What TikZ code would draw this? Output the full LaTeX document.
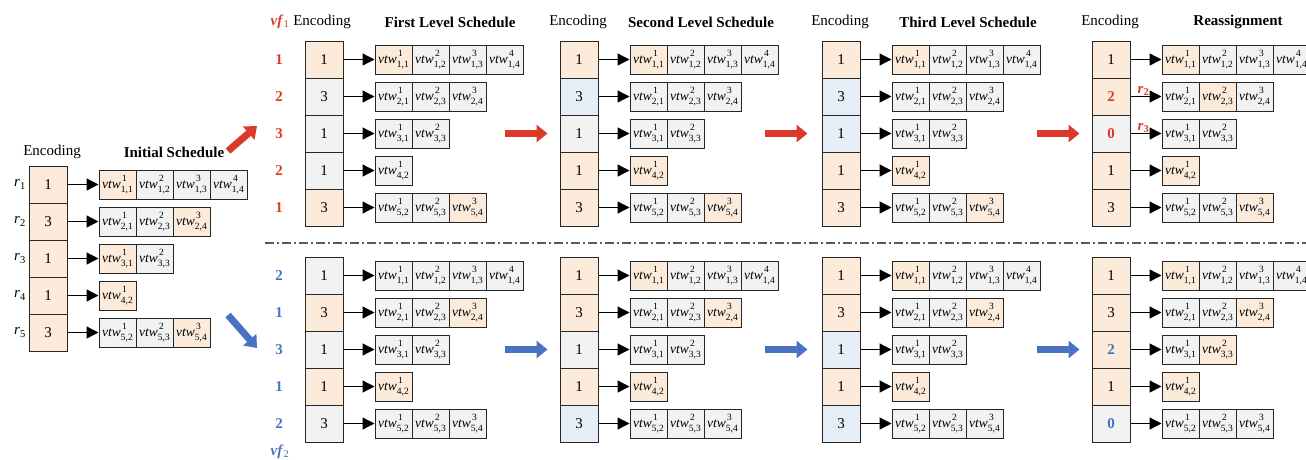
\documentclass[tikz,border=0pt]{standalone}
\usepackage{fontspec}
\setmainfont{Liberation Serif}
\usepackage{xcolor}
\usetikzlibrary{arrows.meta}

\definecolor{ora}{HTML}{FCEADB}
\definecolor{gry}{HTML}{F2F2F2}
\definecolor{blu}{HTML}{E6EEF8}
\definecolor{vfred}{HTML}{DC3A28}
\definecolor{vfblue}{HTML}{4A72C2}

% task label with stacked super- and subscript
\newcommand{\vtw}[2]{\textit{vtw}{\fontsize{9.5}{10}\selectfont
  \rlap{\kern1.2pt\raisebox{6.8pt}{#1}}\raisebox{-3.6pt}{#2}}}
\newcommand{\redval}[1]{\textcolor{vfred}{\bfseries #1}}
\newcommand{\blueval}[1]{\textcolor{vfblue}{\bfseries #1}}

% one schedule: #1 name, #2 left x, #3 top y, #4 rows (fill/value/{fill/k,...})
\newcommand{\schedule}[4]{%
  \foreach \ef/\ev/\cells [count=\i] in {#4} {
    \node[enc, fill=\ef] (#1E\i) at (#2+19, #3+37*\i-18.5) {\ev};
    \foreach \cf/\k [count=\j] in \cells
      \node[task, fill=\cf] (#1T\i-\j) at (#2+51.5+37*\j, #3+37*\i-18.5) {\vtw{\j}{\i,\k}};
    \draw[link] (#1E\i) -- (#1T\i-1);
  }%
}

\begin{document}
\begin{tikzpicture}[x=1pt, y=-1pt,
    enc/.style={draw=black!85, line width=1pt, minimum width=38pt, minimum height=37pt,
      inner sep=0pt, font=\fontsize{15}{17}\selectfont},
    task/.style={draw=black!85, line width=1pt, minimum width=37pt, minimum height=29pt,
      inner sep=0pt, font=\fontsize{13.5}{15}\selectfont},
    link/.style={line width=1.3pt, -{Triangle[width=12pt,length=12pt]}},
    redarrow/.style={draw=vfred, line width=7pt, -{Triangle[width=17pt,length=11pt]}},
    bluearrow/.style={draw=vfblue, line width=7pt, -{Triangle[width=17pt,length=11pt]}},
    sepline/.style={draw=black!65, line width=1.2pt, dash pattern=on 9pt off 3pt on 2pt off 3pt},
    head/.style={font=\fontsize{15}{17}\selectfont},
    title/.style={font=\fontsize{15}{17}\selectfont\bfseries},
    vfnum/.style={font=\fontsize{15}{17}\selectfont\bfseries}]
  \useasboundingbox (0,0) rectangle (1306,459);

  % initial schedule
  \node[head] (IH) at (52,152) {Encoding};
  \node[title] (IS) at (174,152) {Initial Schedule};
  \schedule{I}{29}{166}{ora/1/{ora/1,gry/2,gry/3,gry/4}, ora/3/{gry/1,gry/3,ora/4},
    ora/1/{ora/1,gry/3}, ora/1/{ora/2}, ora/3/{gry/2,gry/3,ora/4}}
  \foreach \i in {1,...,5}
    \node[head] (r\i) at (20, 166+37*\i-18.5) {\textit{r}\textsubscript{\i}};

  % vf1 branch
  \node[head, text=vfred] (vf1) at (280,22) {\textbf{\textit{vf}}\textsubscript{1}};
  \foreach \v [count=\i] in {1,2,3,2,1}
    \node[vfnum, text=vfred] (AN\i) at (279, 41+37*\i-18.5) {\v};
  \schedule{A}{305}{41}{ora/1/{ora/1,gry/2,gry/3,gry/4}, gry/3/{gry/1,gry/3,gry/4},
    gry/1/{gry/1,gry/3}, gry/1/{gry/2}, ora/3/{gry/2,gry/3,ora/4}}
  \schedule{B}{560}{41}{ora/1/{ora/1,gry/2,gry/3,gry/4}, blu/3/{gry/1,gry/3,gry/4},
    gry/1/{gry/1,gry/3}, ora/1/{ora/2}, ora/3/{gry/2,gry/3,ora/4}}
  \schedule{C}{822}{41}{ora/1/{ora/1,gry/2,gry/3,gry/4}, blu/3/{gry/1,gry/3,gry/4},
    blu/1/{gry/1,gry/3}, ora/1/{ora/2}, ora/3/{gry/2,gry/3,ora/4}}
  \schedule{D}{1092}{41}{ora/1/{ora/1,gry/2,gry/3,gry/4}, ora/\redval{2}/{gry/1,ora/3,gry/4},
    gry/\redval{0}/{gry/1,gry/3}, ora/1/{ora/2}, ora/3/{gry/2,gry/3,ora/4}}

  \node[head] (AH) at (322,22) {Encoding};
  \node[title] (AS) at (450,22) {First Level Schedule};
  \node[head] (BH) at (578,22) {Encoding};
  \node[title] (BS) at (701,22) {Second Level Schedule};
  \node[head] (CH) at (840,22) {Encoding};
  \node[title] (CS) at (968,22) {Third Level Schedule};
  \node[head] (DH) at (1110,22) {Encoding};
  \node[title] (DS) at (1238,22) {Reassignment};

  \path (DE2) -- (DT2-1) node[pos=.42, above, inner sep=1pt, vfnum, text=vfred]
    {\textit{r}\textsubscript{2}};
  \path (DE3) -- (DT3-1) node[pos=.42, above, inner sep=1pt, vfnum, text=vfred]
    {\textit{r}\textsubscript{3}};

  % vf2 branch
  \node[head, text=vfblue] (vf2) at (280,452) {\textbf{\textit{vf}}\textsubscript{2}};
  \foreach \v [count=\i] in {2,1,3,1,2}
    \node[vfnum, text=vfblue] (EN\i) at (279, 257+37*\i-18.5) {\v};
  \schedule{E}{305}{257}{gry/1/{gry/1,gry/2,gry/3,gry/4}, ora/3/{gry/1,gry/3,ora/4},
    gry/1/{gry/1,gry/3}, ora/1/{ora/2}, gry/3/{gry/2,gry/3,gry/4}}
  \schedule{F}{560}{257}{ora/1/{ora/1,gry/2,gry/3,gry/4}, ora/3/{gry/1,gry/3,ora/4},
    gry/1/{gry/1,gry/3}, ora/1/{ora/2}, blu/3/{gry/2,gry/3,gry/4}}
  \schedule{G}{822}{257}{ora/1/{ora/1,gry/2,gry/3,gry/4}, ora/3/{gry/1,gry/3,ora/4},
    blu/1/{gry/1,gry/3}, ora/1/{ora/2}, blu/3/{gry/2,gry/3,gry/4}}
  \schedule{H}{1092}{257}{ora/1/{ora/1,gry/2,gry/3,gry/4}, ora/3/{gry/1,gry/3,ora/4},
    ora/\blueval{2}/{gry/1,ora/3}, ora/1/{ora/2}, gry/\blueval{0}/{gry/2,gry/3,gry/4}}

  % separator
  \draw[sepline] (265,243) -- (1306,243);

  % level to level arrows
  \coordinate (upS) at (228,151);
  \coordinate (upE) at (257,126);
  \coordinate (downS) at (228,315);
  \coordinate (downE) at (257,348);
  \draw[redarrow] (upS) -- (upE);
  \draw[bluearrow] (downS) -- (downE);
  \draw[redarrow] ([xshift=-55pt]BE3.west) -- ([xshift=-12pt]BE3.west);
  \draw[redarrow] ([xshift=-57pt]CE3.west) -- ([xshift=-14pt]CE3.west);
  \draw[redarrow] ([xshift=-55pt]DE3.west) -- ([xshift=-12pt]DE3.west);
  \draw[bluearrow] ([xshift=-55pt]FE3.west) -- ([xshift=-12pt]FE3.west);
  \draw[bluearrow] ([xshift=-57pt]GE3.west) -- ([xshift=-14pt]GE3.west);
  \draw[bluearrow] ([xshift=-55pt]HE3.west) -- ([xshift=-12pt]HE3.west);
\end{tikzpicture}
\end{document}
